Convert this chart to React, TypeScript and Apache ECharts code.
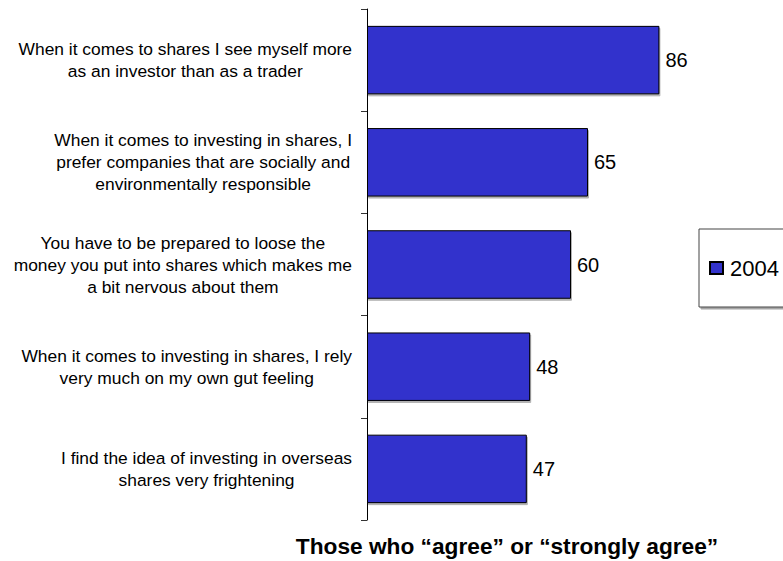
import React, { useEffect, useRef } from "react";
import * as echarts from "echarts";

const categories = [
  "When it comes to shares I see myself more\nas an investor than as a trader",
  "When it comes to investing in shares, I\nprefer companies that are socially and\nenvironmentally responsible",
  "You have to be prepared to loose the\nmoney you put into shares which makes me\na bit nervous about them",
  "When it comes to investing in shares, I rely\nvery much on my own gut feeling",
  "I find the idea of investing in overseas\nshares very frightening",
];
const values2004 = [86, 65, 60, 48, 47];
const seriesName = "2004";
const axisTitle = "Those who \u201cagree\u201d or \u201cstrongly agree\u201d";

const FONT = "'Liberation Sans', Arial, Helvetica, sans-serif";

export default function App() {
  const ref = useRef<HTMLDivElement>(null);
  useEffect(() => {
    if (!ref.current) return;
    const chart = echarts.init(ref.current, undefined, { renderer: "svg" });
    chart.setOption({
      animation: false,
      backgroundColor: "#ffffff",
      textStyle: { fontFamily: FONT },
      grid: { left: 367, top: 9, width: 340, height: 511, containLabel: false },
      legend: {
        show: true,
        data: [seriesName],
        left: 699,
        top: 229,
        orient: "vertical",
        padding: [28, 40, 28, 10],
        itemWidth: 13,
        itemHeight: 12,
        itemGap: 0,
        icon: "rect",
        borderColor: "#444",
        borderWidth: 1,
        backgroundColor: "#fff",
        shadowColor: "rgba(0,0,0,0.35)",
        shadowOffsetX: 2,
        shadowOffsetY: 2,
        shadowBlur: 0,
        textStyle: { fontSize: 22, color: "#000", fontFamily: FONT, padding: [0, 0, 0, 2] },
      },
      xAxis: {
        type: "value",
        min: 0,
        max: 100,
        show: false,
      },
      yAxis: {
        type: "category",
        data: categories,
        inverse: true,
        axisLine: { show: true, lineStyle: { color: "#000", width: 1 } },
        axisTick: { show: true, length: 6, lineStyle: { color: "#333" } },
        axisLabel: {
          margin: 15,
          align: "right",
          color: "#000",
          fontSize: 17.4,
          fontFamily: FONT,
          lineHeight: 22,
          formatter: (v: string) =>
            v
              .split("\n")
              .map((l) => "{c|" + l + "}")
              .join("\n"),
          rich: {
            c: { align: "center", fontSize: 17.4, lineHeight: 22, color: "#000", fontFamily: FONT },
          },
        },
        splitLine: { show: false },
      },
      series: [
        {
          name: seriesName,
          type: "bar",
          data: values2004,
          barWidth: "67%",
          itemStyle: {
            color: "#3333CC",
            borderColor: "#000",
            borderWidth: 1,
            shadowColor: "rgba(0,0,0,0.3)",
            shadowOffsetX: 1,
            shadowOffsetY: 2,
            shadowBlur: 0,
          },
          label: {
            show: true,
            position: "right",
            distance: 6,
            color: "#000",
            fontSize: 20,
            fontFamily: FONT,
          },
        },
      ],
      graphic: [
        {
          type: "text",
          x: 507,
          y: 546,
          style: {
            text: axisTitle,
            align: "center",
            verticalAlign: "middle",
            fontSize: 22.7,
            fontWeight: "bold",
            fill: "#000",
            fontFamily: FONT,
          },
        },
      ],
    });
    return () => chart.dispose();
  }, []);
  return (
    <div
      ref={ref}
      style={{ position: "fixed", left: 0, top: 0, width: 783, height: 561, background: "#fff" }}
    />
  );
}
